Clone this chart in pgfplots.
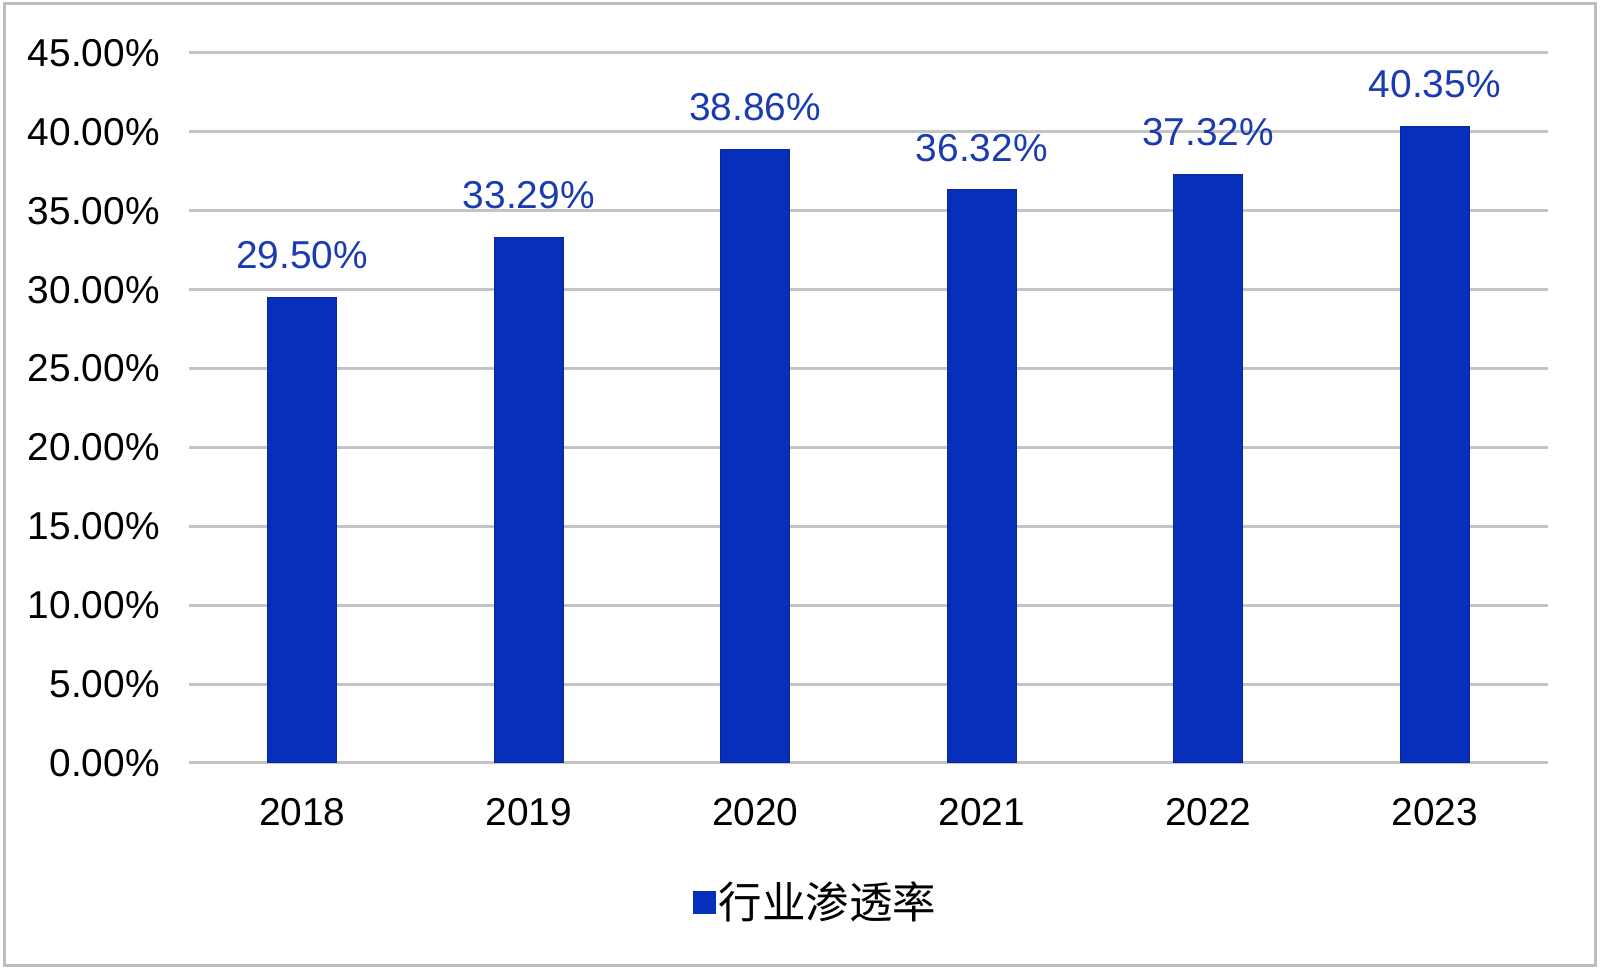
\documentclass[border=0pt]{standalone}
\usepackage{fontspec}
\setmainfont{Liberation Sans}
\newfontfamily\cjk{Noto Sans CJK SC}
\usepackage{pgfplots}
\pgfplotsset{compat=1.18}
\definecolor{barblue}{HTML}{0630BC}
\definecolor{baredge}{HTML}{0A2894}
\definecolor{lblblue}{HTML}{1A3CB0}
\definecolor{gridgray}{HTML}{C4C4C4}
\definecolor{framegray}{HTML}{BEBEBE}
\begin{document}
\begin{tikzpicture}
\path[use as bounding box] (0,0) rectangle (800bp,485.5bp);
\draw[framegray, line width=1.5bp] (2bp,2.5bp) rectangle (797.5bp,483.5bp);
\begin{axis}[
  at={(94.5bp,104bp)}, anchor=south west,
  scale only axis, width=679.5bp, height=355bp,
  ybar, bar width=34.5bp,
  xmin=-0.5, xmax=5.5, ymin=0, ymax=45,
  xtick={0,1,2,3,4,5},
  xticklabels={2018,2019,2020,2021,2022,2023},
  ytick={0,5,10,15,20,25,30,35,40,45},
  axis line style={draw=none}, major tick length=0pt,
  ymajorgrids, grid style={gridgray, line width=1.5bp},
  /pgf/number format/assume math mode=true,
  yticklabel={\pgfmathprintnumber[fixed,fixed zerofill,precision=2]{\tick}\%},
  yticklabel style={font=\fontsize{19.5}{23}\selectfont, anchor=east, inner sep=0pt, xshift=-14.5bp},
  xticklabel style={font=\fontsize{19.5}{23}\selectfont, anchor=north, inner sep=0pt, yshift=-17.5bp},
  nodes near coords={\pgfmathprintnumber[fixed,fixed zerofill,precision=2]{\pgfplotspointmeta}\%},
  nodes near coords style={font=\fontsize{19.5}{23}\selectfont, text=lblblue, anchor=south, inner sep=0pt, yshift=14bp},
  legend style={at={(0.4614,-0.1958)}, anchor=center, draw=none, fill=none, inner sep=0pt,
    font=\cjk\fontsize{21.8}{26}\selectfont, nodes={inner sep=1.5bp}},
  legend image code/.code={\fill[barblue] (0bp,-5.5bp) rectangle (11bp,5.5bp);},
]
\addplot[fill=barblue, draw=baredge, line width=0.5bp] coordinates {
  (0,29.50) (1,33.29) (2,38.86) (3,36.32) (4,37.32) (5,40.35)
};
\addlegendentry{行业渗透率}
\end{axis}
\end{tikzpicture}
\end{document}
